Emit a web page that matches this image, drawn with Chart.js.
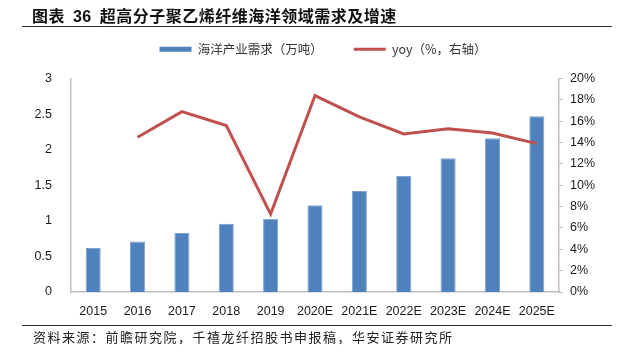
<!DOCTYPE html>
<html>
<head>
<meta charset="utf-8">
<script src="https://cdn.jsdelivr.net/npm/chart.js@4/dist/chart.umd.min.js"></script>
<style>
  html, body { margin: 0; padding: 0; background: #fff; }
  #wrap { position: relative; width: 618px; height: 356px; overflow: hidden; }
  #chartBox { position: absolute; left: 0; top: 0; width: 618px; height: 356px; }
  #title { position: absolute; left: 32px; top: 5px; font-family: "Liberation Sans", "Noto Sans CJK SC", sans-serif; font-weight: bold; font-size: 16px; letter-spacing: 0.5px; word-spacing: 3px; color: #111; white-space: nowrap; line-height: 20px; }
  #title .cjk { font-family: "Noto Sans CJK SC", sans-serif; }
  #topRule { position: absolute; left: 22px; top: 26px; width: 590px; height: 1px; background: #333; }
  #bottomRule { position: absolute; left: 22px; top: 325px; width: 590px; height: 1px; background: #333; }
  #source { position: absolute; left: 33px; top: 328px; font-family: "Noto Sans CJK SC", sans-serif; font-size: 13px; letter-spacing: 1.5px; color: #222; white-space: nowrap; line-height: 18px; }
</style>
</head>
<body>
<div id="wrap">
  <div id="chartBox"><canvas id="c"></canvas></div>
  <div id="title"><span class="cjk">图表</span> 36 <span class="cjk">超高分子聚乙烯纤维海洋领域需求及增速</span></div>
  <div id="topRule"></div>
  <div id="bottomRule"></div>
  <div id="source">资料来源：前瞻研究院，千禧龙纤招股书申报稿，华安证券研究所</div>
</div>
<script>
const categories = ['2015','2016','2017','2018','2019','2020E','2021E','2022E','2023E','2024E','2025E'];
const demand = [0.62, 0.71, 0.83, 0.96, 1.03, 1.22, 1.42, 1.63, 1.88, 2.16, 2.47];
const yoy = [null, 14.5, 16.9, 15.6, 7.3, 18.4, 16.4, 14.8, 15.3, 14.9, 13.9];
const demandLabel = '海洋产业需求（万吨）';
const yoyLabel = 'yoy（%，右轴）';

const tickFont = { family: '"Liberation Sans", Arial, sans-serif', size: 12.5 };
const axisGrey = '#bfbfbf';

// adds extra space below the legend and nudges it right
const legendGap = {
  id: 'legendGap',
  beforeLayout(chart) {
    const lg = chart.legend;
    if (lg && !lg._gapWrapped) {
      const f = lg.fit.bind(lg);
      lg.fit = function () { f(); this.height += 13; };
      lg._gapWrapped = true;
    }
  },
  afterLayout(chart) {
    const lg = chart.legend;
    if (lg) { lg.left += 8; lg.right += 8; }
  }
};

new Chart(document.getElementById('c'), {
  data: {
    labels: categories,
    datasets: [
      {
        type: 'bar',
        label: demandLabel,
        data: demand,
        yAxisID: 'y',
        backgroundColor: '#4F81BD',
        borderColor: '#7ea2d2',
        borderWidth: 1,
        barPercentage: 0.34,
        categoryPercentage: 1,
        order: 1
      },
      {
        type: 'line',
        label: yoyLabel,
        data: yoy,
        yAxisID: 'y1',
        borderColor: '#C0504D',
        backgroundColor: '#C0504D',
        borderWidth: 3,
        pointRadius: 0,
        tension: 0,
        spanGaps: false,
        order: 0
      }
    ]
  },
  plugins: [legendGap],
  options: {
    responsive: true,
    maintainAspectRatio: false,
    animation: false,
    layout: { padding: { top: 12, left: 0, right: 0, bottom: 0 } },
    plugins: {
      tooltip: { enabled: false },
      legend: {
        position: 'top',
        fullSize: false,
        labels: {
          usePointStyle: true,
          pointStyleWidth: 32,
          boxHeight: 5,
          padding: 31,
          color: '#333',
          font: { family: '"Noto Sans CJK SC", sans-serif', size: 12.5 },
          sort: (a, b) => a.datasetIndex - b.datasetIndex,
          generateLabels(chart) {
            const items = Chart.defaults.plugins.legend.labels.generateLabels(chart);
            items.forEach(it => {
              if (it.datasetIndex === 0) { it.pointStyle = 'rect'; it.lineWidth = 0; it.fillStyle = '#4F81BD'; }
              else { it.pointStyle = 'line'; it.lineWidth = 3; it.strokeStyle = '#C0504D'; }
            });
            return items;
          }
        }
      }
    },
    scales: {
      x: {
        grid: { display: false },
        border: { display: true, color: axisGrey, width: 1.5 },
        ticks: { font: tickFont, color: '#1a1a1a', padding: 4, maxRotation: 0, autoSkip: false },
        afterFit(s) { s.height = 64; }
      },
      y: {
        position: 'left',
        min: 0, max: 3,
        grid: { display: false },
        border: { display: true, color: axisGrey, width: 1.5 },
        ticks: { stepSize: 0.5, font: tickFont, color: '#1a1a1a', padding: 11, callback: v => String(+Number(v).toFixed(1)) },
        afterFit(s) { s.width = 71; }
      },
      y1: {
        position: 'right',
        min: 0, max: 20,
        grid: { display: true, drawOnChartArea: false, drawTicks: true, tickLength: 4, color: axisGrey },
        border: { display: true, color: axisGrey, width: 1.5 },
        ticks: { stepSize: 2, font: tickFont, color: '#1a1a1a', padding: 7, callback: v => v + '%' },
        afterFit(s) { s.width = 59; }
      }
    }
  }
});
</script>
</body>
</html>
